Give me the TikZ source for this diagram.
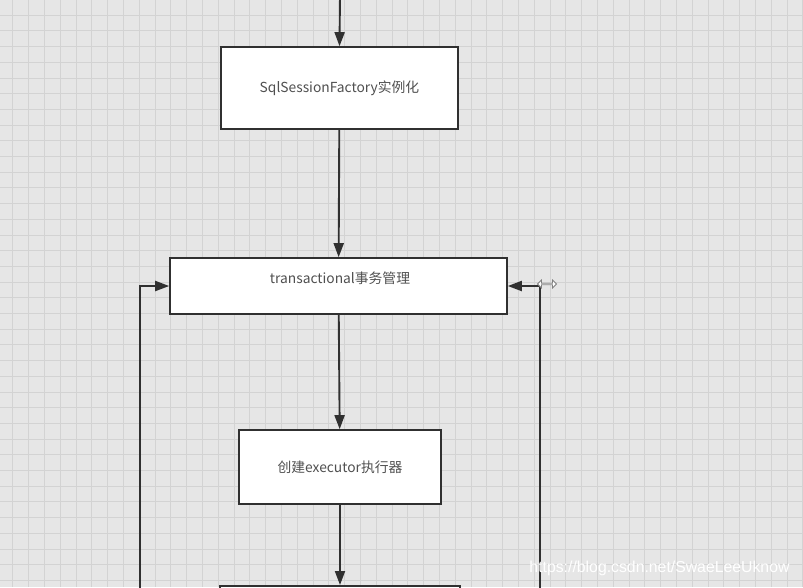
\documentclass[tikz,border=0pt]{standalone}
\usepackage{fontspec}
\newfontfamily\cjk{Noto Sans CJK SC}
\setsansfont{Liberation Sans}
\usetikzlibrary{arrows.meta,shapes.arrows}
\definecolor{paper}{HTML}{E6E6E6}
\definecolor{gridline}{HTML}{D3D3D3}
\definecolor{ink}{HTML}{303030}
\definecolor{txt}{HTML}{505050}
\tikzset{
  box/.style={draw=ink, line width=1.6pt, fill=white, inner sep=0pt,
    font=\cjk\fontsize{13.8}{16}\selectfont, text=txt},
  flow/.style={draw=ink, line width=1.9pt, -{Triangle[length=14pt,width=10pt]}},
}
\begin{document}
\begin{tikzpicture}[x=1pt, y=-1pt]
\useasboundingbox (0,0) rectangle (803,587);
\clip (0,0) rectangle (803,587);
% canvas with grid
\fill[paper] (0,0) rectangle (803,587);
\foreach \gx in {12.7,28.5,...,803} \draw[gridline, line width=0.6pt] (\gx,0) -- (\gx,587);
\foreach \gy in {15,30.7,...,587} \draw[gridline, line width=0.6pt] (0,\gy) -- (803,\gy);
% steps
\node[box, minimum width=237pt, minimum height=82pt] (factory) at (339.5,88) {SqlSessionFactory实例化};
\node[box, minimum width=337pt, minimum height=56pt] (txn) at (338.5,286) {};
\node[font=\cjk\fontsize{13.8}{16}\selectfont, text=txt] (txntext) at (340,278) {transactional事务管理};
\node[box, minimum width=202pt, minimum height=74pt] (executor) at (340,467) {创建executor执行器};
\node[box, minimum width=240pt, minimum height=80pt, anchor=north] (next) at (340,585) {};
% connectors
\coordinate (entry) at (340,-5);
\coordinate (lloop) at (140,600);
\coordinate (rloop) at (540,600);
\draw[flow] (entry) -- (factory.north);
\draw[flow] (factory) -- (txn);
\draw[flow] (txn) -- (executor);
\draw[flow] (executor) -- (next);
\draw[flow] (lloop) |- (txn.west);
\draw[flow] (rloop) |- (txn.east);
\node[double arrow, draw=gray, fill=white, line width=0.8pt, minimum width=8pt,
  minimum height=19pt, double arrow head extend=1.5pt, inner sep=0pt] (grip) at (547,284) {};
% watermark
\node[anchor=east, text=white, font=\sffamily\fontsize{15.8}{18}\selectfont] (mark) at (793,568) {https://blog.csdn.net/SwaeLeeUknow};
\end{tikzpicture}
\end{document}
